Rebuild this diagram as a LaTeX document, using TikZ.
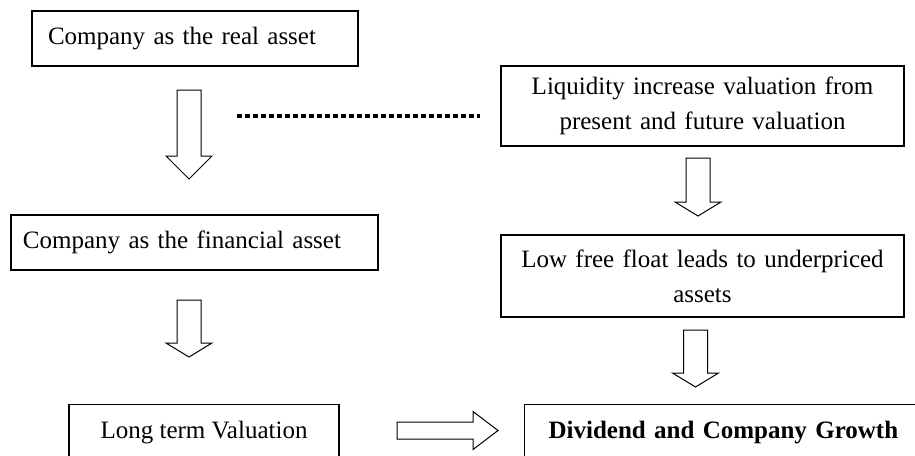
\documentclass[tikz,border=0pt]{standalone}
\usepackage{fontspec}
\setmainfont{Liberation Serif}

\tikzset{
    box/.style={draw, line width=1.2pt, inner sep=0pt, font=\fontsize{25}{35}\selectfont},
    dotline/.style={line width=4.5pt, dash pattern=on 5pt off 3pt},
    pics/downarr/.style args={#1/#2}{code={
        \draw[line width=1pt, fill=white] (-12,0) -- (12,0) -- (12,#1) -- (23,#1)
            -- (0,#1+#2) -- (-23,#1) -- (-12,#1) -- cycle;
    }},
    pics/rightarr/.style args={#1/#2}{code={
        \draw[line width=1pt, fill=white] (0,-8.5) -- (#1,-8.5) -- (#1,-19)
            -- (#1+#2,0) -- (#1,19) -- (#1,8.5) -- (0,8.5) -- cycle;
    }},
}

\begin{document}
\begin{tikzpicture}[x=1pt, y=-1pt]
        \useasboundingbox[fill=white] (0,0) rectangle (915,455);

        % left column
        \node[box, minimum height=55, text width=294, inner xsep=16, align=left] (realasset) at (195,38.5) {Company as the real asset};
        \node[box, minimum height=55, text width=343, inner xsep=12, align=left] (finasset) at (194.5,242.5) {Company as the financial asset};
        \node[box, anchor=north, minimum width=270, text height=18, text depth=6, inner ysep=16] (longterm) at (204,404) {Long term Valuation};

        % right column
        \node[box, minimum height=80, text width=403, align=center] (liquidity) at (702.5,106) {Liquidity increase valuation from\\present and future valuation};
        \node[box, minimum height=82, text width=403, align=center] (freefloat) at (702.5,276) {Low free float leads to underpriced\\assets};
        \node[box, anchor=north west, text width=387, inner xsep=24, align=left, text height=18, text depth=6, inner ysep=16,
              font=\fontsize{25}{35}\selectfont\bfseries] (dividend) at (524,404) {Dividend and Company Growth};

        % block arrows
        \pic at (189,90) {downarr={66/23}};
        \pic at (189,300) {downarr={43/14}};
        \pic at (698,158) {downarr={44/14}};
        \pic at (695.5,330) {downarr={43/14}};
        \pic at (397,430.5) {rightarr={76/25}};

        % dotted link
        \coordinate (dotstart) at (237,116);
        \draw[dotline] (dotstart) -- (480,116);
\end{tikzpicture}
\end{document}
